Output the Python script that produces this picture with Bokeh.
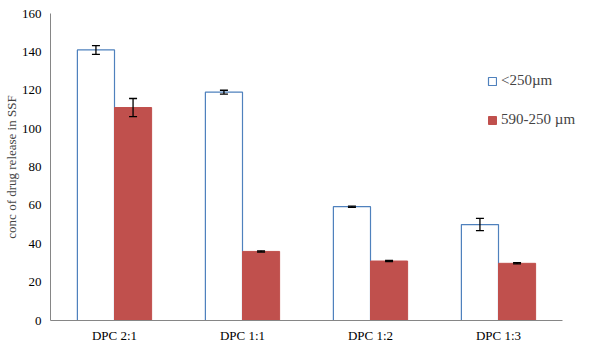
from bokeh.plotting import figure
from bokeh.models import (ColumnDataSource, Range1d, Whisker, FixedTicker,
                          Legend, LegendItem, SingleIntervalTicker, TeeHead)
from bokeh.embed import file_html
from bokeh.resources import INLINE

categories = ["DPC 2:1", "DPC 1:1", "DPC 1:2", "DPC 1:3"]
small_vals = [141.0, 119.0, 59.3, 50.0]
small_err = [2.3, 1.0, 0.3, 3.2]
large_vals = [111.0, 36.0, 31.0, 29.8]
large_err = [4.7, 0.3, 0.3, 0.3]
series_names = ["<250\u00b5m", "590-250 \u00b5m"]

FONT = "Liberation Serif"
BLUE = "#4F81BD"
RED = "#C0504D"
AXIS = "#868686"

W = 0.29
off = W / 2
centers = [i + 0.5 for i in range(len(categories))]

src = ColumnDataSource(dict(
    xs=[c - off for c in centers],
    xl=[c + off for c in centers],
    small=small_vals,
    small_up=[v + e for v, e in zip(small_vals, small_err)],
    small_lo=[v - e for v, e in zip(small_vals, small_err)],
    large=large_vals,
    large_up=[v + e for v, e in zip(large_vals, large_err)],
    large_lo=[v - e for v, e in zip(large_vals, large_err)],
))

p = figure(frame_width=534, frame_height=307,
           x_range=Range1d(0, 534 / 128), y_range=Range1d(0, 160),
           output_backend="svg", toolbar_location=None,
           min_border_left=42, min_border_right=0, min_border_top=13,
           min_border_bottom=31)
p.outline_line_color = None
p.xgrid.grid_line_color = None
p.ygrid.grid_line_color = None

r1 = p.vbar(x="xs", top="small", width=W, source=src,
            fill_color="white", line_color=BLUE, line_width=1.2)
r2 = p.vbar(x="xl", top="large", width=W, source=src,
            fill_color=RED, line_color=RED, line_width=1)

for b, up, lo in [("xs", "small_up", "small_lo"), ("xl", "large_up", "large_lo")]:
    w = Whisker(base=b, upper=up, lower=lo, source=src,
                line_color="black", line_width=1.3, level="overlay",
                upper_head=TeeHead(size=8, line_color="black", line_width=1.3),
                lower_head=TeeHead(size=8, line_color="black", line_width=1.3))
    p.add_layout(w)

p.xaxis.ticker = FixedTicker(ticks=centers)
p.xaxis.major_label_overrides = {c: name for c, name in zip(centers, categories)}
p.xaxis.bounds = (0, len(categories))
p.yaxis.ticker = SingleIntervalTicker(interval=20)
p.yaxis.axis_label = "conc of drug release in SSF"
p.yaxis.axis_label_text_font = FONT
p.yaxis.axis_label_text_font_style = "normal"
p.yaxis.axis_label_text_font_size = "13px"
p.yaxis.axis_label_standoff = 0
for ax in (p.xaxis, p.yaxis):
    ax.axis_line_color = AXIS
    ax.axis_line_width = 1
    ax.major_tick_line_color = None
    ax.minor_tick_line_color = None
    ax.major_tick_out = 0
    ax.major_tick_in = 0
    ax.major_label_text_font = FONT
    ax.major_label_text_font_size = "13px"
    ax.major_label_text_color = "black"
p.yaxis.major_label_standoff = 5
p.xaxis.major_label_standoff = 7

legend = Legend(items=[LegendItem(label=series_names[0], renderers=[r1]),
                       LegendItem(label=series_names[1], renderers=[r2])],
                location=(437, 192), orientation="vertical",
                label_text_font=FONT,
                label_text_font_size="15px",
                glyph_width=10, glyph_height=10, label_standoff=4,
                spacing=22, padding=0, margin=0, border_line_color=None,
                background_fill_alpha=0)
p.add_layout(legend)

open("out.html", "w").write(file_html(p, INLINE))
